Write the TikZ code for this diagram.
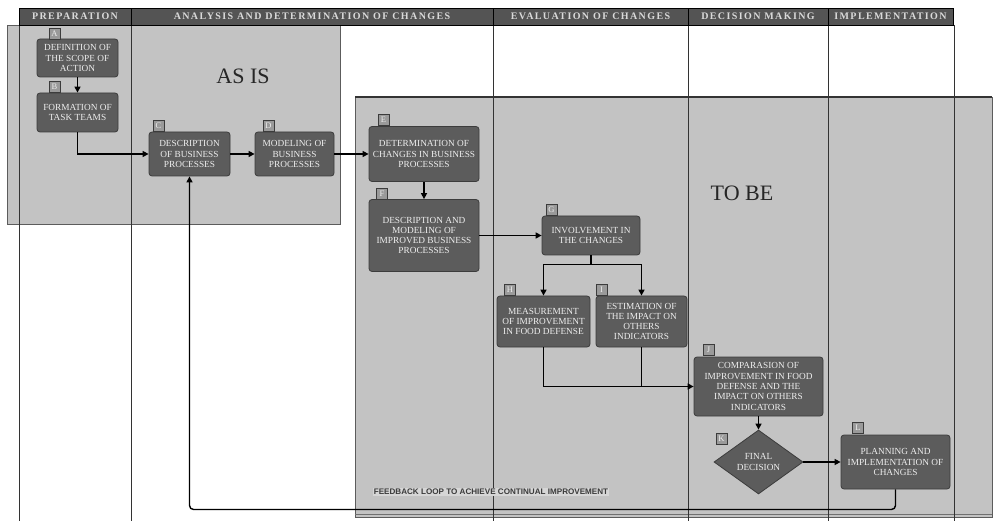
\documentclass[tikz,border=0pt]{standalone}
\usepackage{fontspec}
\setmainfont{Liberation Serif}
\newfontfamily\hdrfont[LetterSpace=14]{Liberation Serif}
\newfontfamily\fbfont{Liberation Sans}
\usetikzlibrary{arrows.meta,shapes.geometric}
\definecolor{boxgray}{HTML}{C3C3C3}
\definecolor{nodegray}{HTML}{5C5C5C}
\definecolor{nodeline}{HTML}{3C3C3C}
\definecolor{txtlight}{HTML}{EEEEEE}
\definecolor{hdrgray}{HTML}{545454}
\definecolor{hdrtext}{HTML}{DADADA}
\definecolor{lanegray}{HTML}{333333}
\definecolor{lblgray}{HTML}{9A9A9A}
\definecolor{fbtext}{HTML}{3A3A3A}
\definecolor{fbfill}{HTML}{D6D6D6}
\begin{document}
\begin{tikzpicture}[x=1pt,y=-1pt,
 proc/.style={draw=nodeline, line width=0.8pt, fill=nodegray, rounded corners=3pt,
   text=txtlight, font=\fontsize{9.3}{10.3}\selectfont, align=center, inner sep=1pt},
 decbox/.style={diamond, draw=nodeline, line width=0.8pt, fill=nodegray,
   text=txtlight, font=\fontsize{9.3}{10.3}\selectfont, align=center, inner sep=0pt,
   minimum width=89pt, minimum height=64pt},
 lbl/.style={draw=nodeline, fill=lblgray, text=txtlight, minimum size=11pt,
   inner sep=0pt, font=\fontsize{8.5}{8.5}\selectfont, line width=0.6pt},
 hdr/.style={draw=black, fill=hdrgray, text=hdrtext, minimum height=17pt, inner sep=0pt,
   font=\hdrfont\bfseries\fontsize{10}{10}\selectfont, line width=0.8pt},
 arr/.style={-{Triangle[length=6pt,width=6pt]}, line width=1.4pt, black},
 lane/.style={draw=lanegray, line width=0.8pt},
 bigbox/.style={fill=boxgray, draw=lanegray!80, line width=0.7pt},
 bigtext/.style={text=black!85, font=\fontsize{22}{22}\selectfont}]

\useasboundingbox (0,0) rectangle (993,521);
\fill[white] (0,0) rectangle (993,521);

% AS IS and TO BE areas
\draw[bigbox] (7,25) rectangle (340,224);
\draw[bigbox] (355,97) rectangle (992,517);
\draw[lanegray, line width=2pt] (355,97) -- (992,97);
\draw[lanegray!70, line width=0.6pt] (355,514) -- (992,514);

% lane lines
\foreach \xx in {19.5,131,493,688,828,954}
  \draw[lane] (\xx,25) -- (\xx,521);

% header
\node[hdr, minimum width=112pt] (h1) at (75,16.5) {PREPARATION};
\node[hdr, minimum width=362pt] (h2) at (312,16.5) {ANALYSIS AND DETERMINATION OF CHANGES};
\node[hdr, minimum width=195pt] (h3) at (590.5,16.5) {EVALUATION OF CHANGES};
\node[hdr, minimum width=140pt] (h4) at (758,16.5) {DECISION MAKING};
\node[hdr, minimum width=125pt] (h5) at (890.5,16.5) {IMPLEMENTATION};

% area titles
\node[bigtext] (asis) at (243,76) {AS IS};
\node[bigtext] (tobe) at (742,193) {TO BE};

% process nodes
\node[proc, minimum width=81pt, minimum height=38pt] (A) at (77.5,58) {DEFINITION OF\\THE SCOPE OF\\ACTION};
\node[proc, minimum width=81pt, minimum height=39pt] (B) at (77.5,112.5) {FORMATION OF\\TASK TEAMS};
\node[proc, minimum width=81pt, minimum height=44pt] (C) at (189.5,154) {DESCRIPTION\\OF BUSINESS\\PROCESSES};
\node[proc, minimum width=79pt, minimum height=44pt] (D) at (294.5,154) {MODELING OF\\BUSINESS\\PROCESSES};
\node[proc, minimum width=110pt, minimum height=55pt] (E) at (424,154) {DETERMINATION OF\\CHANGES IN BUSINESS\\PROCESSES};
\node[proc, minimum width=110pt, minimum height=72pt] (F) at (424,235.5) {DESCRIPTION AND\\MODELING OF\\IMPROVED BUSINESS\\PROCESSES};
\node[proc, minimum width=98pt, minimum height=39pt] (G) at (591,235.5) {INVOLVEMENT IN\\THE CHANGES};
\node[proc, minimum width=93pt, minimum height=51pt] (H) at (543.5,321.5) {MEASUREMENT\\OF IMPROVEMENT\\IN FOOD DEFENSE};
\node[proc, minimum width=91pt, minimum height=51pt] (I) at (641.5,321.5) {ESTIMATION OF\\THE IMPACT ON\\OTHERS\\INDICATORS};
\node[proc, minimum width=129pt, minimum height=59pt] (J) at (758.5,386.5) {COMPARASION OF\\IMPROVEMENT IN FOOD\\DEFENSE AND THE\\IMPACT ON OTHERS\\INDICATORS};
\node[decbox] (K) at (758.5,462) {FINAL\\DECISION};
\node[proc, minimum width=109pt, minimum height=54pt] (L) at (895.5,462) {PLANNING AND\\IMPLEMENTATION OF\\CHANGES};

% letter labels
\node[lbl] (lA) at (54.5,33.5) {A};
\node[lbl] (lB) at (54.5,86.5) {B};
\node[lbl] (lC) at (158.5,125.5) {C};
\node[lbl] (lD) at (268.5,125.5) {D};
\node[lbl] (lE) at (383.5,119.5) {E};
\node[lbl] (lF) at (382,194) {F};
\node[lbl] (lG) at (551.5,209.5) {G};
\node[lbl] (lH) at (510,289.5) {H};
\node[lbl] (lI) at (601.5,289.5) {I};
\node[lbl] (lJ) at (708.5,350) {J};
\node[lbl] (lK) at (721.5,438.5) {K};
\node[lbl] (lL) at (858,428) {L};

% connectors
\draw[arr] (A) -- (B);
\draw[arr] (B.south) |- (C.west);
\draw[arr] (C) -- (D);
\draw[arr] (D.east) -- (E.west |- D.east);
\draw[arr] (E) -- (F);
\draw[arr] (F.east) -- (G.west |- F.east);
\draw[arr] (G.south) -- ++(0,9) -| (H.north);
\draw[arr] (G.south) -- ++(0,9) -| (I.north);
\draw[arr] (H.south) |- (J.west);
\draw[line width=1.4pt] (I.south) -- (I.south |- J.west);
\draw[arr] (J) -- (K);
\draw[arr] (K) -- (L);
\coordinate (fb) at (0,509.5);
\draw[arr, rounded corners=4pt] (L.south) |- (C.south |- fb) -- (C.south);

\node[text=fbtext, fill=fbfill, inner sep=1pt, font=\fbfont\bfseries\fontsize{8.1}{8.5}\selectfont] (fbl) at (491,492) {FEEDBACK LOOP TO ACHIEVE CONTINUAL IMPROVEMENT};
\end{tikzpicture}
\end{document}
